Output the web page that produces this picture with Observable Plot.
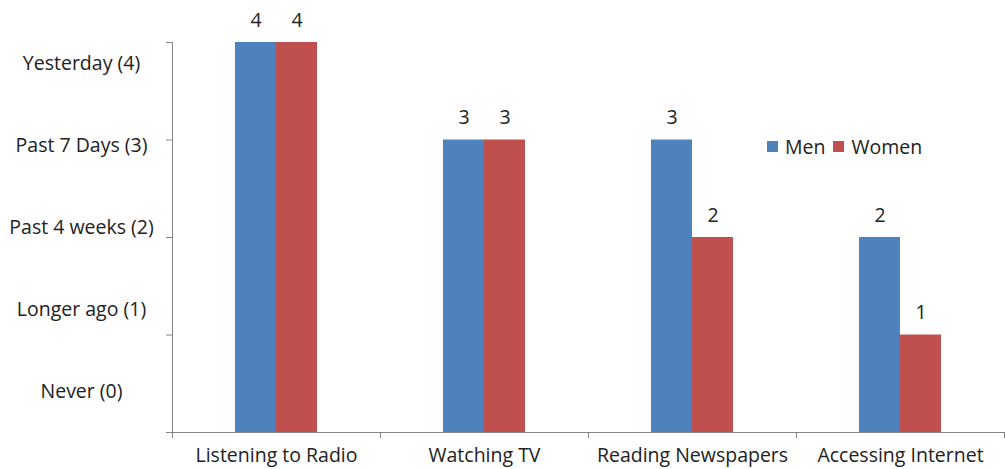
<!DOCTYPE html>
<html>
<head>
<meta charset="utf-8">
<script src="https://cdn.jsdelivr.net/npm/d3@7"></script>
<script src="https://cdn.jsdelivr.net/npm/@observablehq/plot@0.6"></script>
<style>
  body { margin: 0; background: #fff; }
  #wrap { position: relative; width: 1005px; height: 469px; overflow: hidden; font-family: "Open Sans", Lato, sans-serif; }
  #legend { position: absolute; left: 767px; top: 133px; display: flex; align-items: center; font-size: 19.5px; color: #222; }
  #legend .sw { width: 11px; height: 11px; display: inline-block; margin-right: 7px; }
  #legend .item { display: flex; align-items: center; margin-right: 8px; }
</style>
</head>
<body>
<div id="wrap"></div>
<script>
const categories = ["Listening to Radio", "Watching TV", "Reading Newspapers", "Accessing Internet"];
const series = ["Men", "Women"];
const men = [4, 3, 3, 2];
const women = [4, 3, 2, 1];
const yTickValues = [0, 1, 2, 3, 4];
const yLabels = ["Never (0)", "Longer ago (1)", "Past 4 weeks (2)", "Past 7 Days (3)", "Yesterday (4)"];
const colors = ["#4F81BD", "#C0504D"];

const data = categories.flatMap((c, i) => [
  {category: c, series: "Men", value: men[i]},
  {category: c, series: "Women", value: women[i]}
]);
// the original's level labels sit in evenly spread slots, not on the ticks
const labelPos = yTickValues.map(k => (k + 0.5) * 0.84);

const font = '"Open Sans", Lato, sans-serif';
const fs = 19.5;
const chart = Plot.plot({
  width: 1005,
  height: 469,
  marginLeft: 171,
  marginRight: 0,
  marginTop: 42,
  marginBottom: 37,
  style: {fontFamily: font, fontSize: fs + "px", color: "#222", background: "transparent"},
  fx: {domain: categories, padding: 0, label: null},
  x: {domain: series, padding: 0, paddingOuter: 1.51, axis: null},
  y: {domain: [0, 4]},
  color: {domain: series, range: colors},
  marks: [
    Plot.barY(data, {fx: "category", x: "series", y: "value", fill: "series",
      style: "filter: drop-shadow(2px 1px 1.5px rgba(0,0,0,0.22))"}),
    Plot.text(data, {fx: "category", x: "series", y: "value", text: d => String(d.value), dy: -22, fontSize: fs, fill: "#222"}),
    Plot.ruleY([0], {stroke: "#868686", strokeWidth: 1}),
    Plot.axisY({ticks: yTickValues, tickSize: 6, tickFormat: () => "", stroke: "#868686", label: null}),
    Plot.axisY({ticks: labelPos, tickSize: 0, tickPadding: 91, textAnchor: "middle", tickFormat: (d, i) => yLabels[i], label: null, fontSize: fs}),
    Plot.axisFx({anchor: "bottom", tickSize: 0, tickPadding: 16, label: null, fontSize: fs})
  ]
});

document.getElementById("wrap").appendChild(chart);

// axis line and category boundary ticks, from the plot's own scales
const svg = d3.select(chart.tagName.toLowerCase() === "svg" ? chart : chart.querySelector("svg"));
const fx = chart.scale("fx"), y = chart.scale("y");
const y0 = y.apply(0), y4 = y.apply(4);
const left = fx.apply(categories[0]);
svg.append("line").attr("x1", left + 0.5).attr("x2", left + 0.5).attr("y1", y4).attr("y2", y0).attr("stroke", "#868686");
const bounds = categories.map(c => fx.apply(c)).concat([fx.apply(categories[categories.length - 1]) + fx.bandwidth]);
bounds.forEach(b => {
  const bx = Math.min(b, 1004) + 0.5;
  svg.append("line").attr("x1", bx).attr("x2", bx).attr("y1", y0).attr("y2", y0 + 6).attr("stroke", "#868686");
});

const legend = document.createElement("div");
legend.id = "legend";
series.forEach((s, i) => {
  const item = document.createElement("span");
  item.className = "item";
  item.innerHTML = `<span class="sw" style="background:${colors[i]}"></span>${s}`;
  legend.appendChild(item);
});
document.getElementById("wrap").appendChild(legend);
</script>
</body>
</html>
